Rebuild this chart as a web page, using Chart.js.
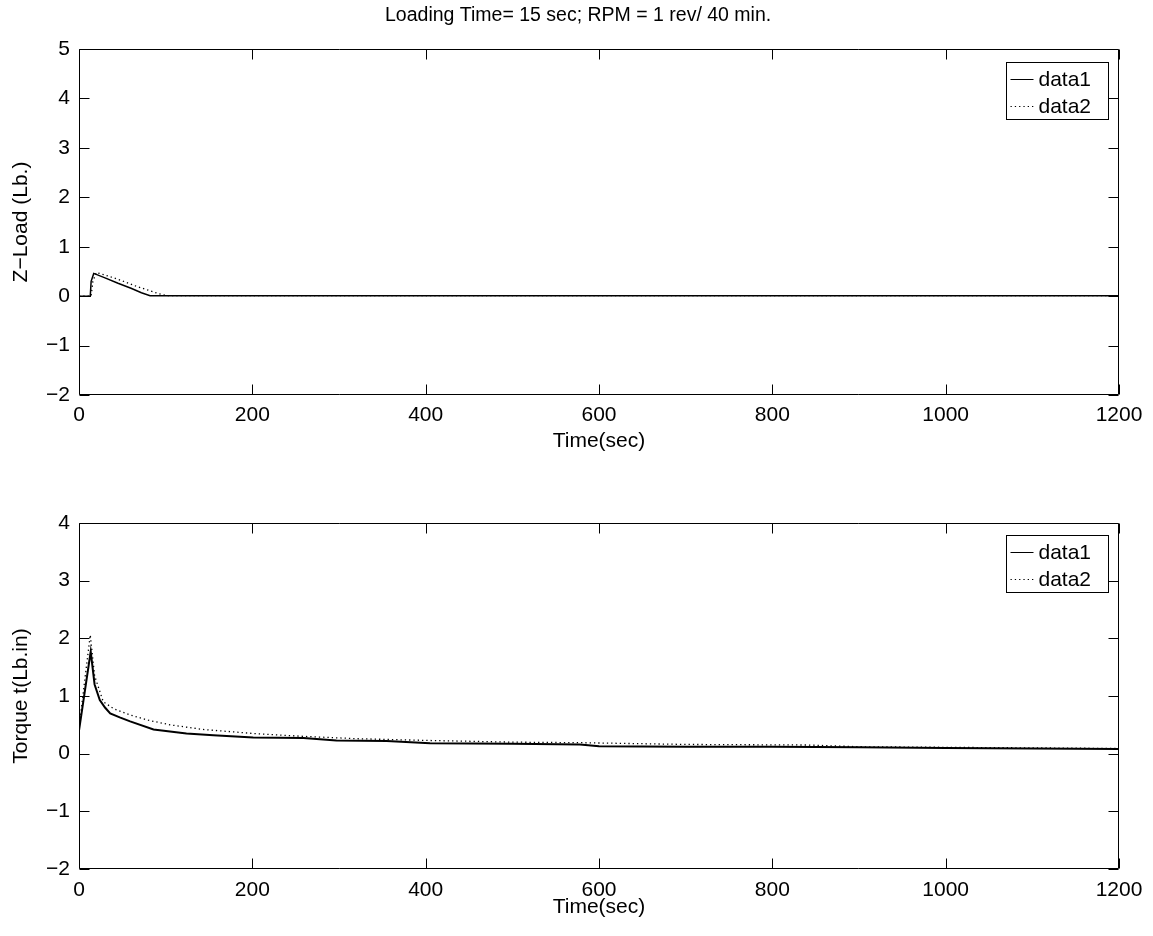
<!DOCTYPE html>
<html>
<head>
<meta charset="utf-8">
<title>Loading Time</title>
<script src="https://cdn.jsdelivr.net/npm/chart.js@4.4.0/dist/chart.umd.min.js"></script>
<style>
  html, body { margin: 0; padding: 0; background: #fff; }
  .panel { position: absolute; left: 0; width: 1153px; }
  #zPanel { top: 0; height: 466px; }
  #tPanel { top: 466px; height: 470px; }
</style>
</head>
<body>
<div class="panel" id="zPanel"><canvas id="zChart"></canvas></div>
<div class="panel" id="tPanel"><canvas id="tChart"></canvas></div>
<script>
const titleText = "Loading Time= 15 sec; RPM = 1 rev/ 40 min.";
const seriesNames = ["data1", "data2"];

// Z-load, run 1 and run 2
const zTime1 = [0, 13, 14, 17, 30, 45, 60, 72, 82, 200, 400, 600, 800, 1000, 1200];
const zLoad1 = [0, 0, 0.3, 0.46, 0.37, 0.26, 0.16, 0.07, 0.01, 0.01, 0.01, 0.01, 0.01, 0.01, 0.01];
const zTime2 = [0, 14, 16, 20, 35, 50, 66, 80, 92, 101, 200, 400, 600, 800, 1000, 1200];
const zLoad2 = [0, 0, 0.3, 0.48, 0.4, 0.31, 0.2, 0.12, 0.05, 0.01, 0.01, 0.01, 0.01, 0.01, 0.01, 0.01];

// Torque, run 1 and run 2
const tTime1 = [0, 13.5, 18, 24, 30, 36, 47, 59, 86, 124, 155, 201, 259, 297, 355, 405, 500, 578, 600, 700, 800, 900, 1000, 1100, 1200];
const torque1 = [0.4, 1.77, 1.2, 0.93, 0.8, 0.7, 0.63, 0.56, 0.42, 0.35, 0.32, 0.28, 0.27, 0.23, 0.22, 0.18, 0.17, 0.16, 0.13, 0.12, 0.12, 0.11, 0.1, 0.09, 0.08];
const tTime2 = [0, 13, 18, 28, 40, 59, 80, 105, 143, 201, 259, 320, 400, 500, 580, 700, 840, 900, 1000, 1100, 1200];
const torque2 = [0.45, 2.06, 1.35, 0.9, 0.78, 0.67, 0.58, 0.5, 0.42, 0.35, 0.3, 0.26, 0.23, 0.2, 0.19, 0.16, 0.15, 0.12, 0.11, 0.1, 0.09];

const FONT = "'Liberation Sans', Arial, Helvetica, sans-serif";
const minus = v => String(v).replace("-", "\u2212");
const pts = (xs, ys) => xs.map((x, i) => ({ x, y: ys[i] }));

// frame round the plot area with inward tick marks on all four sides,
// plus the boxed legend and the optional heading
const boxAxes = {
    id: "boxAxes",
    afterDraw(chart) {
        const { ctx, chartArea: a, scales: { x, y } } = chart;
        const opts = chart.options.plugins.boxLegend;
        const L = Math.round(a.left) + 0.5, R = Math.round(a.right) - 0.5;
        const T = Math.round(a.top) + 0.5, B = Math.round(a.bottom) - 0.5;
        ctx.save();
        ctx.strokeStyle = "#000";
        ctx.lineWidth = 1;
        ctx.beginPath();
        ctx.rect(L, T, R - L, B - T);
        x.ticks.forEach(t => {
            const px = Math.round(x.getPixelForValue(t.value)) + 0.5;
            ctx.moveTo(px, B); ctx.lineTo(px, B - 10);
            ctx.moveTo(px, T); ctx.lineTo(px, T + 10);
        });
        y.ticks.forEach(t => {
            const py = Math.round(y.getPixelForValue(t.value)) + 0.5;
            ctx.moveTo(L, py); ctx.lineTo(L + 10, py);
            ctx.moveTo(R, py); ctx.lineTo(R - 10, py);
        });
        ctx.stroke();

        if (opts.heading) {
            ctx.font = "19.5px " + FONT;
            ctx.fillStyle = "#000";
            ctx.textAlign = "left";
            ctx.textBaseline = "middle";
            ctx.fillText(opts.heading, 385, 16);
        }

        // legend box in the upper right corner
        const w = 102, h = 57;
        const bx = Math.round(a.right - opts.right - w) + 0.5;
        const by = Math.round(a.top + opts.top) + 0.5;
        ctx.fillStyle = "#fff";
        ctx.fillRect(bx, by, w, h);
        ctx.strokeRect(bx, by, w, h);
        ctx.font = "21px " + FONT;
        ctx.textAlign = "left";
        ctx.textBaseline = "middle";
        ctx.fillStyle = "#000";
        chart.data.datasets.forEach((ds, i) => {
            const ry = Math.round(by + 16 + i * 27) + 0.5;
            ctx.beginPath();
            ctx.lineWidth = 1;
            ctx.setLineDash(ds.borderDash || []);
            ctx.moveTo(bx + 4, ry);
            ctx.lineTo(bx + 27, ry);
            ctx.stroke();
            ctx.setLineDash([]);
            ctx.fillText(ds.label, bx + 32, ry + 1);
        });
        ctx.restore();
    }
};

function makeChart(id, cfg) {
    return new Chart(document.getElementById(id), {
        type: "line",
        data: {
            datasets: [
                { label: seriesNames[0], data: cfg.d1, borderColor: "#000", borderWidth: cfg.w1, pointRadius: 0, tension: 0 },
                { label: seriesNames[1], data: cfg.d2, borderColor: "#000", borderWidth: 1.3, borderDash: [1.3, 3], pointRadius: 0, tension: 0 }
            ]
        },
        options: {
            responsive: true,
            maintainAspectRatio: false,
            animation: false,
            layout: { padding: { left: 0, right: 34, top: cfg.padTop, bottom: 0 } },
            plugins: {
                legend: { display: false },
                tooltip: { enabled: false },
                title: { display: false },
                boxLegend: { top: cfg.legTop, right: 11, heading: cfg.title }
            },
            scales: {
                x: {
                    type: "linear", min: 0, max: 1200,
                    grid: { display: false, drawTicks: false },
                    border: { display: false },
                    ticks: { stepSize: 200, color: "#000", padding: cfg.xTickPad, maxRotation: 0, font: { family: FONT, size: 21 }, callback: minus },
                    title: { display: true, text: "Time(sec)", color: "#000", font: { family: FONT, size: 21 }, padding: { top: 0, bottom: cfg.xTitlePad } },
                    afterFit: s => { s.height = cfg.xHeight; }
                },
                y: {
                    min: cfg.yMin, max: cfg.yMax,
                    grid: { display: false, drawTicks: false },
                    border: { display: false },
                    ticks: { stepSize: 1, color: "#000", padding: 9, font: { family: FONT, size: 21 }, callback: minus },
                    title: { display: true, text: cfg.yTitle, color: "#000", font: { family: FONT, size: 21 }, padding: { top: 9, bottom: 0 } },
                    afterFit: s => { s.width = 79; }
                }
            }
        },
        plugins: [boxAxes]
    });
}

makeChart("zChart", {
    d1: pts(zTime1, zLoad1), d2: pts(zTime2, zLoad2), w1: 1.5,
    title: titleText, padTop: 49, legTop: 13,
    yMin: -2, yMax: 5, yTitle: "Z\u2212Load (Lb.)",
    xHeight: 71, xTickPad: 8, xTitlePad: 12.4
});

makeChart("tChart", {
    d1: pts(tTime1, torque1), d2: pts(tTime2, torque2), w1: 2,
    title: null, padTop: 57, legTop: 12,
    yMin: -2, yMax: 4, yTitle: "Torque t(Lb.in)",
    xHeight: 67, xTickPad: 9, xTitlePad: 16
});
</script>
</body>
</html>
